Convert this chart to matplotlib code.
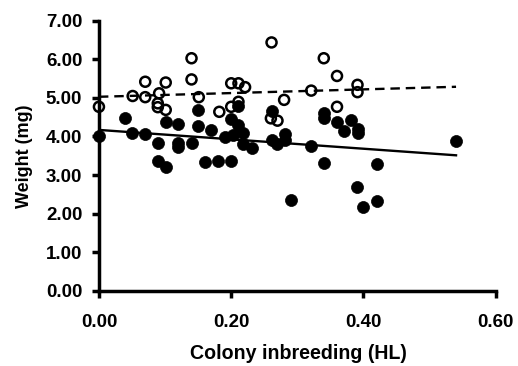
import numpy as np
import matplotlib.pyplot as plt

plt.rcParams['font.family'] = ['Liberation Sans', 'DejaVu Sans']
plt.rcParams['font.weight'] = 'bold'

# filled circles
inbreed_filled = [0.000, 0.039, 0.050, 0.070, 0.090, 0.090, 0.101, 0.101, 0.120, 0.120,
                  0.120, 0.140, 0.150, 0.150, 0.160, 0.170, 0.180, 0.190, 0.200, 0.200,
                  0.203, 0.210, 0.210, 0.218, 0.218, 0.231, 0.261, 0.261, 0.270, 0.281,
                  0.281, 0.290, 0.321, 0.340, 0.340, 0.340, 0.360, 0.371, 0.381, 0.391,
                  0.391, 0.390, 0.400, 0.420, 0.420, 0.540]
weight_filled = [4.01, 4.49, 4.10, 4.06, 3.82, 3.37, 3.22, 4.38, 4.32, 3.83,
                 3.72, 3.82, 4.27, 4.68, 3.35, 4.17, 3.37, 3.99, 3.37, 4.45,
                 4.04, 4.30, 4.78, 4.08, 3.80, 3.69, 4.65, 3.92, 3.80, 4.06,
                 3.90, 2.34, 3.74, 4.62, 4.48, 3.32, 4.38, 4.13, 4.42, 4.20,
                 4.10, 2.68, 2.18, 3.28, 2.32, 3.87]

# open circles
inbreed_open = [0.000, 0.051, 0.070, 0.070, 0.091, 0.089, 0.089, 0.101, 0.101, 0.140,
                0.140, 0.151, 0.182, 0.200, 0.200, 0.211, 0.221, 0.211, 0.261, 0.280,
                0.260, 0.270, 0.321, 0.340, 0.360, 0.360, 0.391, 0.391]
weight_open = [4.77, 5.05, 5.42, 5.02, 5.12, 4.86, 4.76, 4.69, 5.40, 6.03,
               5.48, 5.02, 4.64, 4.77, 5.38, 5.38, 5.28, 4.90, 6.44, 4.95,
               4.47, 4.41, 5.19, 6.03, 5.57, 4.77, 5.34, 5.15]

# trend lines: intercept, slope
fit_filled = (4.17, -1.22)
fit_open = (5.03, 0.48)

fig = plt.figure(figsize=(5.18, 3.66), dpi=100)
ax = fig.add_axes([0.191, 0.206, 0.766, 0.737])

ax.scatter(inbreed_filled, weight_filled, s=75, c='black', edgecolors='black',
           linewidths=0.5, zorder=3, clip_on=False)
ax.scatter(inbreed_open, weight_open, s=52, facecolors='none', edgecolors='black',
           linewidths=1.8, zorder=3, clip_on=False)

xs = np.array([0, max(inbreed_filled)])
ax.plot(xs, fit_filled[0] + fit_filled[1] * xs, color='black', lw=1.7)
ax.plot(xs, fit_open[0] + fit_open[1] * xs, color='black', lw=1.7, ls=(0, (4, 2.5)))

ax.set_xlim(0, 0.6)
ax.set_ylim(0, 7)
ax.set_xticks([0, 0.2, 0.4, 0.6])
ax.set_yticks(range(8))
ax.set_xticklabels(['0.00', '0.20', '0.40', '0.60'])
ax.set_yticklabels(['%.2f' % v for v in range(8)])

for s in ['top', 'right']:
    ax.spines[s].set_visible(False)
for s in ['left', 'bottom']:
    ax.spines[s].set_linewidth(2.5)
ax.tick_params(direction='out', length=5, width=2.5, labelsize=13.5)
ax.tick_params(axis='x', pad=12)
ax.tick_params(axis='y', pad=7)

ax.set_xlabel('Colony inbreeding (HL)', fontsize=14.1, fontweight='bold')
ax.set_ylabel('Weight (mg)', fontsize=13, fontweight='bold')
ax.xaxis.set_label_coords(0.503, -0.199)
ax.yaxis.set_label_coords(-0.166, 0.497)

fig.savefig('out.png', dpi=100)
